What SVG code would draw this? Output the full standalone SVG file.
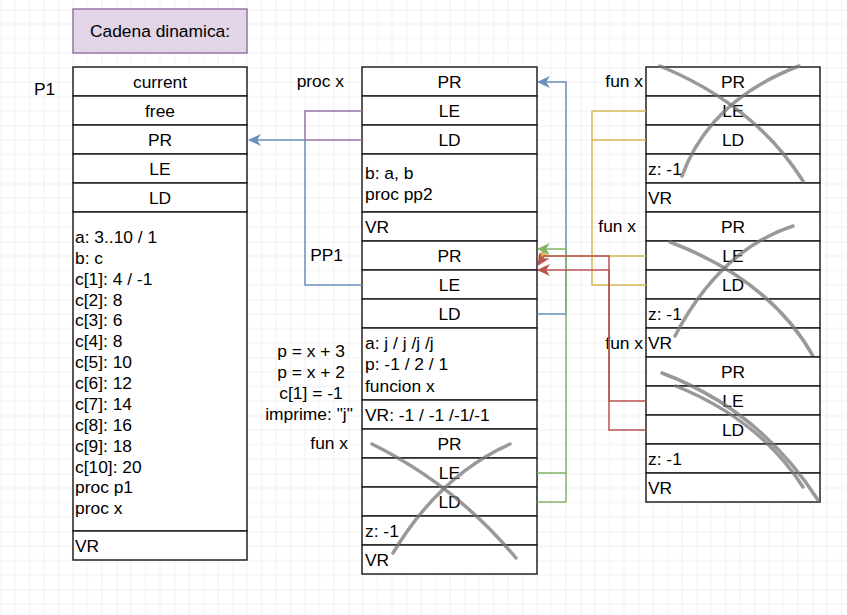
<svg xmlns="http://www.w3.org/2000/svg" width="847" height="615" viewBox="0 0 847 615">
<style>
text{font-family:"Liberation Sans",Arial,sans-serif;font-size:17.4px;fill:#000}
.c{text-anchor:middle}
.r{text-anchor:end}
.cell{fill:#fff;stroke:#222;stroke-width:1.5}
.e{fill:none;stroke-width:1.5}
.x{fill:none;stroke:#777;stroke-opacity:0.75;stroke-width:3.5;stroke-linecap:round}
</style>
<defs>
<pattern id="g" width="58" height="58" patternUnits="userSpaceOnUse" x="0.5" y="9.5">
<path d="M14.5,0V58M29,0V58M43.5,0V58M0,14.5H58M0,29H58M0,43.5H58" stroke="#f0f0f0" stroke-width="1" fill="none"/>
<path d="M0,0V58M0,0H58" stroke="#e4e4e4" stroke-width="1" fill="none"/>
</pattern>
<marker id="ab" viewBox="0 0 12 11" refX="11" refY="5.5" markerWidth="13" markerHeight="12" markerUnits="userSpaceOnUse" orient="auto"><path d="M0,0L12,5.5L0,11L3.5,5.5z" fill="#6c8ebf"/></marker>
<marker id="ag" viewBox="0 0 12 11" refX="11" refY="5.5" markerWidth="13" markerHeight="12" markerUnits="userSpaceOnUse" orient="auto"><path d="M0,0L12,5.5L0,11L3.5,5.5z" fill="#82b366"/></marker>
<marker id="ay" viewBox="0 0 12 11" refX="11" refY="5.5" markerWidth="13" markerHeight="12" markerUnits="userSpaceOnUse" orient="auto"><path d="M0,0L12,5.5L0,11L3.5,5.5z" fill="#d6b656"/></marker>
<marker id="ar" viewBox="0 0 12 11" refX="11" refY="5.5" markerWidth="13" markerHeight="12" markerUnits="userSpaceOnUse" orient="auto"><path d="M0,0L12,5.5L0,11L3.5,5.5z" fill="#b85450"/></marker>
</defs>
<rect width="847" height="615" fill="#fff"/>
<rect width="847" height="615" fill="url(#g)"/>

<g id="title">
<rect x="73" y="9" width="174" height="44" fill="#e1d5e7" stroke="#9673a6" stroke-width="1.5"/>
<text class="c" x="160" y="37">Cadena dinamica:</text>
</g>

<g id="labels">
<text x="34" y="95">P1</text>
<text class="r" x="344" y="87">proc x</text>
<text class="r" x="343" y="261">PP1</text>
<text class="r" x="643" y="87">fun x</text>
<text class="r" x="636" y="232">fun x</text>
<text class="r" x="643" y="349">fun x</text>
<text class="r" x="348" y="449">fun x</text>
<text class="c" x="311" y="357">p = x + 3</text>
<text class="c" x="311" y="378">p = x + 2</text>
<text class="c" x="311" y="399">c[1] = -1</text>
<text class="c" x="309" y="420">imprime: "j"</text>
</g>

<g id="p1">
<rect class="cell" x="73" y="67" width="174" height="29"/><text class="c" x="160" y="87.5">current</text>
<rect class="cell" x="73" y="96" width="174" height="29"/><text class="c" x="160" y="116.5">free</text>
<rect class="cell" x="73" y="125" width="174" height="29"/><text class="c" x="160" y="145.5">PR</text>
<rect class="cell" x="73" y="154" width="174" height="29"/><text class="c" x="160" y="174.5">LE</text>
<rect class="cell" x="73" y="183" width="174" height="29"/><text class="c" x="160" y="203.5">LD</text>
<rect class="cell" x="73" y="212" width="174" height="319"/>
<text x="75" y="243">a: 3..10 / 1</text>
<text x="75" y="264">b: c</text>
<text x="75" y="285">c[1]: 4 / -1</text>
<text x="75" y="305.5">c[2]: 8</text>
<text x="75" y="326">c[3]: 6</text>
<text x="75" y="347">c[4]: 8</text>
<text x="75" y="368">c[5]: 10</text>
<text x="75" y="389">c[6]: 12</text>
<text x="75" y="409.5">c[7]: 14</text>
<text x="75" y="430.5">c[8]: 16</text>
<text x="75" y="451.5">c[9]: 18</text>
<text x="75" y="472.5">c[10]: 20</text>
<text x="75" y="493">proc p1</text>
<text x="75" y="514">proc x</text>
<rect class="cell" x="73" y="531" width="174" height="29"/><text x="75" y="552">VR</text>
</g>

<g id="procx">
<rect class="cell" x="362" y="67" width="175" height="29"/><text class="c" x="449.5" y="87.5">PR</text>
<rect class="cell" x="362" y="96" width="175" height="29"/><text class="c" x="449.5" y="116.5">LE</text>
<rect class="cell" x="362" y="125" width="175" height="29"/><text class="c" x="449.5" y="145.5">LD</text>
<rect class="cell" x="362" y="154" width="175" height="58"/>
<text x="365" y="179">b: a, b</text>
<text x="365" y="200">proc pp2</text>
<rect class="cell" x="362" y="212" width="175" height="29"/><text x="365" y="232.5">VR</text>
</g>

<g id="pp1">
<rect class="cell" x="362" y="241" width="175" height="29"/><text class="c" x="449.5" y="261.5">PR</text>
<rect class="cell" x="362" y="270" width="175" height="29"/><text class="c" x="449.5" y="290.5">LE</text>
<rect class="cell" x="362" y="299" width="175" height="29"/><text class="c" x="449.5" y="319.5">LD</text>
<rect class="cell" x="362" y="328" width="175" height="72"/>
<text x="365" y="349">a: j / j /j /j</text>
<text x="365" y="370">p: -1 / 2 / 1</text>
<text x="365" y="391.5">funcion x</text>
<rect class="cell" x="362" y="400" width="175" height="29"/><text x="365" y="420.5">VR: -1 / -1 /-1/-1</text>
</g>

<g id="funx-mid">
<rect class="cell" x="362" y="429" width="175" height="29"/><text class="c" x="449.5" y="449.5">PR</text>
<rect class="cell" x="362" y="458" width="175" height="29"/><text class="c" x="449.5" y="478.5">LE</text>
<rect class="cell" x="362" y="487" width="175" height="29"/><text class="c" x="449.5" y="507.5">LD</text>
<rect class="cell" x="362" y="516" width="175" height="29"/><text x="365" y="537">z: -1</text>
<rect class="cell" x="362" y="545" width="175" height="29"/><text x="365" y="566">VR</text>
<path class="x" d="M372,444 Q455,485 516,558"/>
<path class="x" d="M393,553 Q440,475 510,444"/>
</g>

<g id="funx-1">
<rect class="cell" x="646" y="67" width="174" height="29"/><text class="c" x="733" y="87.5">PR</text>
<rect class="cell" x="646" y="96" width="174" height="29"/><text class="c" x="733" y="116.5">LE</text>
<rect class="cell" x="646" y="125" width="174" height="29"/><text class="c" x="733" y="145.5">LD</text>
<rect class="cell" x="646" y="154" width="174" height="29"/><text x="648" y="174.5">z: -1</text>
<rect class="cell" x="646" y="183" width="174" height="29"/><text x="648" y="203.5">VR</text>
<path class="x" d="M660,66 Q755,105 803,181"/>
<path class="x" d="M682,176 Q710,100 799,66"/>
</g>

<g id="funx-2">
<rect class="cell" x="646" y="212" width="174" height="29"/><text class="c" x="733" y="232.5">PR</text>
<rect class="cell" x="646" y="241" width="174" height="29"/><text class="c" x="733" y="261.5">LE</text>
<rect class="cell" x="646" y="270" width="174" height="29"/><text class="c" x="733" y="290.5">LD</text>
<rect class="cell" x="646" y="299" width="174" height="29"/><text x="648" y="319.5">z: -1</text>
<rect class="cell" x="646" y="328" width="174" height="29"/><text x="648" y="348.5">VR</text>
<path class="x" d="M670,242 Q770,280 813,356"/>
<path class="x" d="M675,336 Q720,250 793,226"/>
</g>

<g id="funx-3">
<rect class="cell" x="646" y="357" width="174" height="29"/><text class="c" x="733" y="377.5">PR</text>
<rect class="cell" x="646" y="386" width="174" height="29"/><text class="c" x="733" y="406.5">LE</text>
<rect class="cell" x="646" y="415" width="174" height="29"/><text class="c" x="733" y="435.5">LD</text>
<rect class="cell" x="646" y="444" width="174" height="29"/><text x="648" y="464.5">z: -1</text>
<rect class="cell" x="646" y="473" width="174" height="29"/><text x="648" y="493.5">VR</text>
<path class="x" d="M662,373 Q760,410 818,500"/>
<path class="x" d="M676,386 Q760,420 803,487"/>
</g>

<g id="connectors">
<path class="e" stroke="#9673a6" d="M362,111H305V140H362"/>
<path class="e" stroke="#6c8ebf" d="M362,285H305V140H249" marker-end="url(#ab)"/>
<path class="e" stroke="#6c8ebf" d="M537,314H566V82H538" marker-end="url(#ab)"/>
<path class="e" stroke="#d6b656" d="M646,111H592V285H646M646,140H592"/>
<path class="e" stroke="#d6b656" d="M646,256H540L538,257" marker-end="url(#ay)"/>
<path class="e" stroke="#82b366" d="M537,473H566"/>
<path class="e" stroke="#82b366" d="M537,502H566V249H538" marker-end="url(#ag)"/>
<path class="e" stroke="#b85450" d="M646,401H609V256H544L538,265" marker-end="url(#ar)"/>
<path class="e" stroke="#b85450" d="M646,430H609V270H538" marker-end="url(#ar)"/>
</g>
</svg>
